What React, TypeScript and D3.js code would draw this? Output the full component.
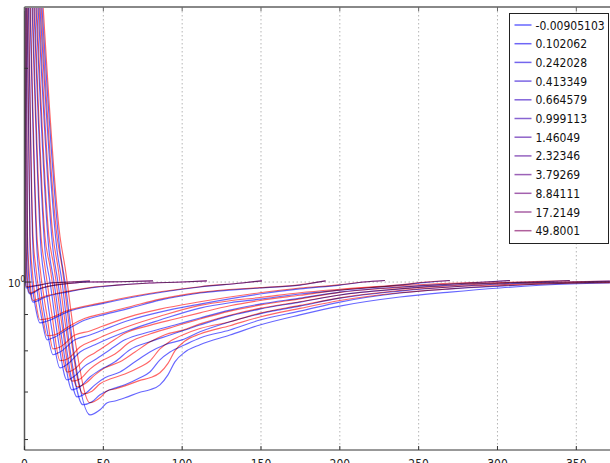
import React from "react";
import * as d3 from "d3";

// legend labels, top to bottom
const legendLabels = [
  "-0.00905103",
  "0.102062",
  "0.242028",
  "0.413349",
  "0.664579",
  "0.999113",
  "1.46049",
  "2.32346",
  "3.79269",
  "8.84111",
  "17.2149",
  "49.8001",
];

// each row: [x, blue value, red value]
const curve01 = [
  [0, 2.44, 2.6], [0.3, 1.11, 1.16], [0.6, 1.0, 1.03], [1.0, 0.981, 0.985], [3.5, 0.984, 0.986],
  [9.8, 0.99, 0.991], [16.2, 0.997, 0.997], [28.9, 1.0, 1.0], [41.5, 1.003, 1.004],
];
const curve02 = [
  [0.3, 2.44, 2.6], [1.0, 1.11, 1.16], [1.6, 1.0, 1.04], [2.5, 0.968, 0.975], [3.5, 0.962, 0.965],
  [9.8, 0.978, 0.979], [19.3, 0.99, 0.99], [32, 0.997, 0.997], [41.5, 1.0, 1.0], [60, 1.001, 1.001],
  [81.5, 1.004, 1.004],
];
const curve03 = [
  [1.0, 2.44, 2.6], [1.9, 1.11, 1.16], [2.9, 1.0, 1.04], [4.1, 0.955, 0.97], [5.4, 0.937, 0.942],
  [13.0, 0.952, 0.955], [26.9, 0.968, 0.97], [41.5, 0.981, 0.982], [58.6, 0.99, 0.99],
  [79.5, 0.997, 0.997], [100, 1.0, 1.0], [115.7, 1.004, 1.004],
];
const curve04 = [
  [1.6, 2.44, 2.6], [3.5, 1.11, 1.16], [4.8, 1.0, 1.045], [7.3, 0.913, 0.935], [9.8, 0.876, 0.885],
  [15, 0.882, 0.888], [26.9, 0.907, 0.911], [47.9, 0.931, 0.934], [68.8, 0.952, 0.955],
  [111.3, 0.984, 0.985], [138, 0.997, 0.997], [150.6, 1.004, 1.004],
];
const curve05 = [
  [2.5, 2.44, 2.6], [5.4, 1.11, 1.16], [7.3, 1.0, 1.045], [11.1, 0.884, 0.91], [14.3, 0.829, 0.84],
  [19.3, 0.837, 0.843], [28.9, 0.862, 0.868], [38.4, 0.884, 0.889], [49.8, 0.899, 0.903],
  [66.9, 0.919, 0.923], [85.9, 0.943, 0.946], [111.3, 0.965, 0.967], [149.3, 0.981, 0.982],
  [174.7, 0.99, 0.991], [185, 0.999, 0.999], [191, 1.004, 1.004],
];
const curve06 = [
  [3.5, 2.44, 2.6], [7.9, 1.11, 1.16], [9.8, 1.0, 1.05], [14.3, 0.856, 0.895], [18.1, 0.79, 0.805],
  [22.5, 0.797, 0.81], [32, 0.829, 0.842], [41.5, 0.842, 0.853], [49.8, 0.856, 0.867],
  [66.9, 0.884, 0.894], [85.9, 0.907, 0.916], [111.3, 0.931, 0.938], [149.3, 0.962, 0.966],
  [174.7, 0.978, 0.981], [200, 0.99, 0.991], [215, 1.0, 1.0], [228.6, 1.005, 1.005],
];
const curve07 = [
  [4.8, 2.44, 2.6], [10.5, 1.11, 1.16], [13.0, 1.0, 1.05], [17.4, 0.856, 0.9], [22.5, 0.757, 0.775],
  [27.6, 0.767, 0.78], [35.2, 0.797, 0.81], [44.7, 0.816, 0.829], [54.2, 0.834, 0.847],
  [66.9, 0.856, 0.868], [85.9, 0.884, 0.895], [111.3, 0.919, 0.927], [130.3, 0.935, 0.941],
  [149.3, 0.946, 0.951], [174.7, 0.962, 0.966], [200, 0.974, 0.977], [238.1, 0.99, 0.991],
  [255, 0.999, 1.0], [269.8, 1.005, 1.005],
];
const curve08 = [
  [6.0, 2.44, 2.6], [13.0, 1.11, 1.16], [16.2, 1.0, 1.05], [21.2, 0.834, 0.875], [26.9, 0.728, 0.747],
  [32.0, 0.738, 0.755], [38.4, 0.762, 0.78], [44.7, 0.777, 0.795], [54.2, 0.803, 0.821],
  [63.7, 0.829, 0.847], [79.5, 0.851, 0.869], [95.4, 0.87, 0.887], [111.3, 0.89, 0.905],
  [130.3, 0.913, 0.926], [149.3, 0.931, 0.942], [174.7, 0.949, 0.958], [200, 0.968, 0.974],
  [238.1, 0.984, 0.988], [269.8, 0.9935, 0.996], [292, 1.0, 1.0], [307.9, 1.005, 1.005],
];
const curve09 = [
  [7.3, 2.44, 2.6], [15.5, 1.11, 1.16], [18.7, 1.0, 1.05], [23.8, 0.829, 0.87], [30.1, 0.705, 0.725],
  [35.2, 0.712, 0.73], [41.5, 0.735, 0.754], [47.9, 0.752, 0.772], [57.4, 0.772, 0.792],
  [66.9, 0.803, 0.823], [79.5, 0.824, 0.845], [92.3, 0.842, 0.862], [111.3, 0.87, 0.887],
  [130.3, 0.896, 0.91], [149.3, 0.916, 0.928], [174.7, 0.937, 0.947], [200, 0.959, 0.967],
  [238.1, 0.978, 0.983], [269.8, 0.99, 0.993], [301.5, 0.997, 0.998], [328, 1.001, 1.002],
  [345.9, 1.005, 1.005],
];
const curve10 = [
  [8.6, 2.44, 2.6], [18.1, 1.11, 1.16], [21.2, 1.0, 1.05], [26.3, 0.816, 0.86], [33.3, 0.689, 0.712],
  [38.4, 0.696, 0.719], [44.7, 0.7165, 0.74], [51.0, 0.733, 0.757], [60.6, 0.747, 0.772],
  [70.1, 0.772, 0.797], [79.5, 0.797, 0.823], [89.1, 0.816, 0.843], [99.9, 0.829, 0.855],
  [111.3, 0.851, 0.873], [130.3, 0.879, 0.898], [149.3, 0.902, 0.918], [174.7, 0.925, 0.938],
  [200, 0.949, 0.959], [238.1, 0.971, 0.978], [269.8, 0.984, 0.988], [301.5, 0.9935, 0.996],
  [345.9, 1.0, 1.001], [371.3, 1.003, 1.003],
];
const curve11 = [
  [9.8, 2.44, 2.6], [20.6, 1.11, 1.16], [23.8, 1.0, 1.05], [28.9, 0.803, 0.85], [37.1, 0.6716, 0.696],
  [42.8, 0.678, 0.702], [47.9, 0.694, 0.719], [54.2, 0.705, 0.73], [63.7, 0.7165, 0.742],
  [73.2, 0.733, 0.759], [79.5, 0.747, 0.774], [85.9, 0.777, 0.805], [92.3, 0.797, 0.825],
  [101.8, 0.816, 0.845], [111.3, 0.834, 0.86], [130.3, 0.856, 0.879], [149.3, 0.884, 0.904],
  [174.7, 0.91, 0.927], [200, 0.937, 0.95], [238.1, 0.965, 0.973], [269.8, 0.978, 0.984],
  [301.5, 0.987, 0.991], [345.9, 0.997, 0.998], [371.3, 1.0, 1.0],
];
const curve12 = [
  [11.1, 2.44, 2.6], [22.5, 1.11, 1.16], [25.7, 1.0, 1.05], [32.0, 0.777, 0.83], [41.5, 0.65, 0.676],
  [47.9, 0.661, 0.687], [52.5, 0.676, 0.703], [57.4, 0.68, 0.707], [63.7, 0.687, 0.714],
  [73.2, 0.6995, 0.727], [79.5, 0.705, 0.733], [85.9, 0.7165, 0.745], [91.0, 0.74, 0.768],
  [95.4, 0.772, 0.8], [101.8, 0.797, 0.826], [111.3, 0.816, 0.845], [130.3, 0.842, 0.868],
  [149.3, 0.87, 0.893], [174.7, 0.899, 0.918], [200, 0.925, 0.942], [238.1, 0.9525, 0.966],
  [269.8, 0.968, 0.978], [301.5, 0.981, 0.988], [345.9, 0.9935, 0.996], [371.3, 0.997, 0.998],
];

const curves = [
  curve01, curve02, curve03, curve04, curve05, curve06,
  curve07, curve08, curve09, curve10, curve11, curve12,
];

const xTicks = [0, 50, 100, 150, 200, 250, 300, 350];
const yMinorTicks = [0.6, 0.7, 0.8, 0.9, 2];

const W = 610;
const H = 463;
const left = 24.5;
const right = 611;
const top = 7;
const bottom = 450;

const font = "'DejaVu Sans Condensed', 'Liberation Sans Narrow', 'DejaVu Sans', sans-serif";

export default function App() {
  const x = d3.scaleLinear().domain([0, 372]).range([left, right]);
  const y = d3.scaleLog().domain([0.58, 2.44]).range([bottom, top]);

  const blueLine = d3
    .line<number[]>()
    .x((d) => x(d[0]))
    .y((d) => y(d[1]))
    .curve(d3.curveMonotoneX);
  const redLine = d3
    .line<number[]>()
    .x((d) => x(d[0]))
    .y((d) => y(d[2]))
    .curve(d3.curveMonotoneX);

  const legendColor = d3.interpolateRgb("#6767ff", "#b0609c");
  const legendX = 509.5;
  const legendY = 13.5;
  const rowH = 18.7;

  return (
    <svg
      width={W}
      height={H}
      style={{ position: "absolute", left: 0, top: 0, background: "#fff" }}
      fontFamily={font}
    >
      <defs>
        <clipPath id="plot">
          <rect x={left} y={top} width={right - left} height={bottom - top} />
        </clipPath>
      </defs>

      {/* grid */}
      {xTicks.slice(1).map((t) => (
        <line
          key={"g" + t}
          x1={x(t)}
          x2={x(t)}
          y1={top}
          y2={bottom}
          stroke="#b5b5b5"
          strokeWidth={1}
          strokeDasharray="1.5,2.5"
        />
      ))}
      <line
        x1={left}
        x2={right}
        y1={y(1)}
        y2={y(1)}
        stroke="#b5b5b5"
        strokeWidth={1}
        strokeDasharray="1.5,2.5"
      />

      {/* curves */}
      <g clipPath="url(#plot)" style={{ isolation: "isolate" }}>
        {curves.map((c, i) => (
          <path
            key={"b" + i}
            d={blueLine(c) || ""}
            fill="none"
            stroke="#0000ff"
            strokeOpacity={0.6}
            strokeWidth={1.15}
          />
        ))}
        {curves.map((c, i) => (
          <path
            key={"r" + i}
            d={redLine(c) || ""}
            fill="none"
            stroke="#ff0000"
            strokeOpacity={0.6}
            strokeWidth={1.15}
            style={{ mixBlendMode: "multiply" }}
          />
        ))}
      </g>

      {/* spines */}
      <line x1={left} x2={right} y1={top} y2={top} stroke="#888" strokeWidth={2} />
      <line x1={left} x2={left} y1={top} y2={bottom} stroke="#555" strokeWidth={1.5} />
      <line x1={left} x2={right} y1={bottom} y2={bottom} stroke="#333" strokeWidth={1} />

      {/* x ticks */}
      {xTicks.map((t) => (
        <g key={"x" + t}>
          <line x1={x(t)} x2={x(t)} y1={bottom} y2={bottom - 4} stroke="#333" />
          <line x1={x(t)} x2={x(t)} y1={top} y2={top + 4} stroke="#666" />
          <text
            x={x(t)}
            y={468}
            textAnchor="middle"
            fontSize={12}
            fill="#222"
            style={{ fontStretch: "condensed" }}
          >
            {t}
          </text>
        </g>
      ))}

      {/* y ticks */}
      <line x1={left} x2={left + 7} y1={y(1)} y2={y(1)} stroke="#333" />
      {yMinorTicks.map((t) => (
        <line key={"y" + t} x1={left} x2={left + 3.5} y1={y(t)} y2={y(t)} stroke="#333" />
      ))}
      <text x={8} y={y(1) + 5} fontSize={11} fill="#222" style={{ fontStretch: "condensed" }}>
        10
        <tspan dy={-5} fontSize={8}>
          0
        </tspan>
      </text>

      {/* legend */}
      <rect
        x={legendX}
        y={legendY}
        width={99}
        height={230}
        fill="#fff"
        stroke="#222"
        strokeWidth={1}
      />
      {legendLabels.map((lab, i) => {
        const cy = legendY + 11.5 + i * rowH;
        return (
          <g key={lab}>
            <line
              x1={legendX + 5}
              x2={legendX + 22}
              y1={cy}
              y2={cy}
              stroke={legendColor(i / (legendLabels.length - 1))}
              strokeWidth={1.5}
            />
            <text
              x={legendX + 26}
              y={cy + 4.5}
              fontSize={12}
              fill="#111"
              style={{ fontStretch: "condensed" }}
            >
              {lab}
            </text>
          </g>
        );
      })}
    </svg>
  );
}
